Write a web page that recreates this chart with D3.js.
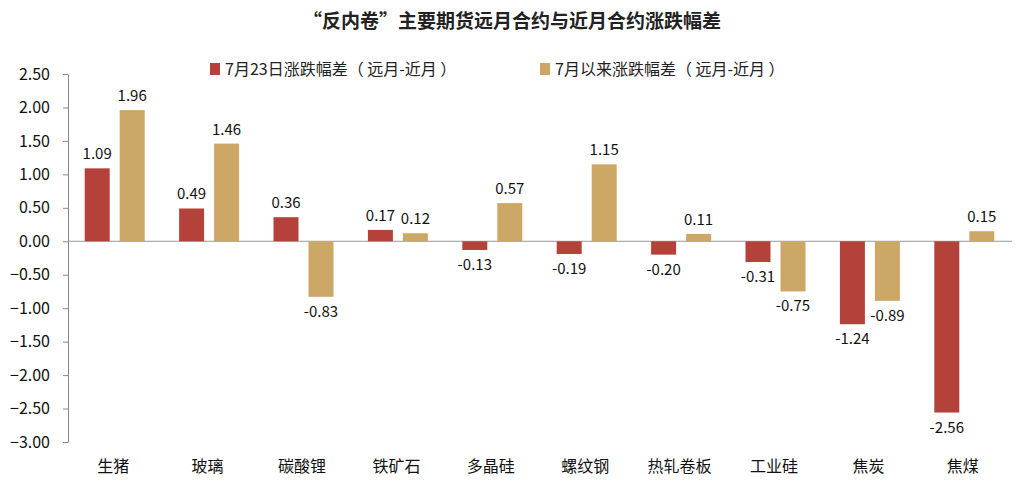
<!DOCTYPE html><html><head><meta charset="utf-8"><script src="https://cdn.jsdelivr.net/npm/d3@7"></script>
<style>body{margin:0;background:#fff}text{font-family:"Noto Sans CJK SC","Liberation Sans",sans-serif}</style></head><body>
<svg id="c" width="1024" height="483"></svg>
<script>
const categories=["生猪","玻璃","碳酸锂","铁矿石","多晶硅","螺纹钢","热轧卷板","工业硅","焦炭","焦煤"];
const seriesA=[1.09,0.49,0.36,0.17,-0.13,-0.19,-0.20,-0.31,-1.24,-2.56];
const seriesB=[1.96,1.46,-0.83,0.12,0.57,1.15,0.11,-0.75,-0.89,0.15];
const seriesNames=["7月23日涨跌幅差（ 远月-近月 ）","7月以来涨跌幅差（ 远月-近月 ）"];
const yTicks=[2.5,2,1.5,1,0.5,0,-0.5,-1,-1.5,-2,-2.5,-3];
const colors=["#b5423a","#cda766"];
const svg=d3.select("#c");
const x=d3.scaleBand().domain(categories).range([68,1012]);
const y=d3.scaleLinear().domain([-3,2.5]).range([442,74]);
svg.append("text").attr("x",512,).attr("y",28).attr("text-anchor","middle").attr("font-size",19).attr("font-weight","bold").attr("fill","#222").text("“反内卷”主要期货远月合约与近月合约涨跌幅差");
const ax=svg.append("g").attr("transform","translate(68,0)").call(d3.axisLeft(y).tickValues(yTicks).tickFormat(d3.format(".2f")).tickSize(5).tickSizeOuter(0));
ax.select(".domain").attr("stroke","#888");ax.selectAll("line").attr("stroke","#888");
ax.selectAll("text").attr("font-size",16).attr("fill","#111").attr("font-family","Liberation Sans, sans-serif").attr("x",-18);
svg.append("line").attr("x1",68).attr("x2",1012).attr("y1",y(0)).attr("y2",y(0)).attr("stroke","#999");
const bw=25;
[seriesA,seriesB].forEach((s,si)=>{
 const g=svg.append("g");
 s.forEach((v,i)=>{
  const cx=x(categories[i])+x.bandwidth()/2+(si?17:-18);
  g.append("rect").attr("x",cx-bw/2).attr("width",bw).attr("y",y(Math.max(0,v))).attr("height",Math.abs(y(v)-y(0))).attr("fill",colors[si]);
  g.append("text").attr("x",cx).attr("y",v>=0?y(v)-9:y(v)+20).attr("text-anchor","middle").attr("font-size",15).attr("fill","#111").attr("font-family","Liberation Sans, sans-serif").text(v.toFixed(2));
 });
});
svg.selectAll(".cat").data(categories).enter().append("text").attr("x",d=>x(d)+x.bandwidth()/2-2).attr("y",472).attr("text-anchor","middle").attr("font-size",16).attr("fill","#111").text(d=>d);
const lx=[210,540];
seriesNames.forEach((n,i)=>{
 svg.append("rect").attr("x",lx[i]).attr("y",63).attr("width",10).attr("height",12).attr("fill",colors[i]);
 svg.append("text").attr("x",lx[i]+15).attr("y",75).attr("font-size",16).attr("fill","#222").text(n);
});
</script></body></html>
